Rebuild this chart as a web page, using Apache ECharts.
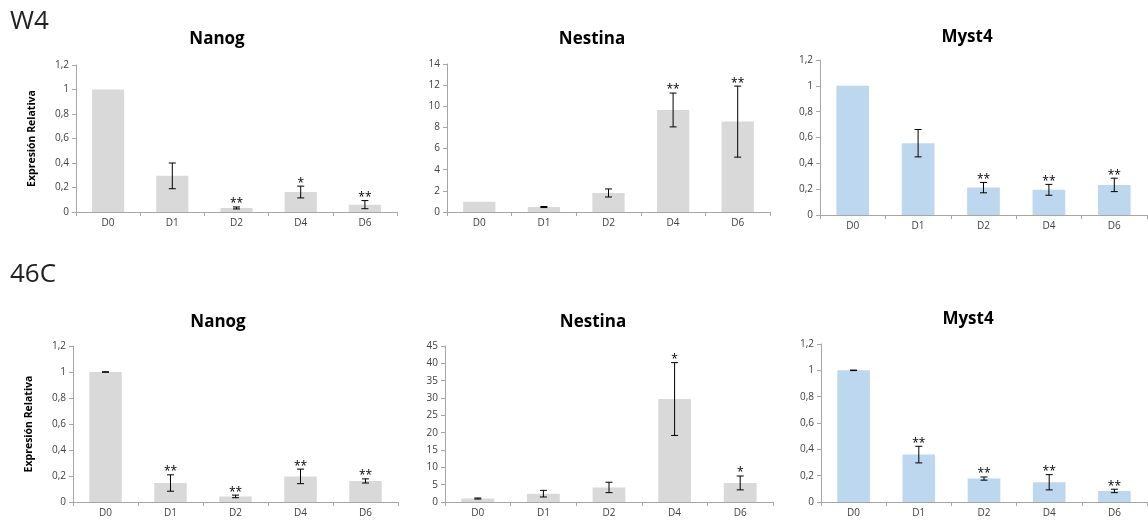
<!DOCTYPE html>
<html><head><meta charset="utf-8">
<script src="https://cdn.jsdelivr.net/npm/echarts@6/dist/echarts.min.js"></script>
<style>html,body{margin:0;padding:0;background:#fff}#c{width:1148px;height:523px}</style>
</head><body><div id="c"></div>
<script>
const categories = ['D0', 'D1', 'D2', 'D4', 'D6'];

const w4NanogMean = [1.0, 0.295, 0.033, 0.163, 0.06];
const w4NanogErr  = [0, 0.105, 0.008, 0.048, 0.033];
const w4NanogSig  = ['', '', '**', '*', '**'];

const w4NestinaMean = [0.98, 0.47, 1.8, 9.65, 8.55];
const w4NestinaErr  = [0, 0.05, 0.38, 1.6, 3.36];
const w4NestinaSig  = ['', '', '', '**', '**'];

const w4Myst4Mean = [1.0, 0.556, 0.212, 0.195, 0.233];
const w4Myst4Err  = [0, 0.106, 0.04, 0.042, 0.052];
const w4Myst4Sig  = ['', '', '**', '**', '**'];

const c46NanogMean = [1.0, 0.146, 0.043, 0.197, 0.162];
const c46NanogErr  = [0.002, 0.063, 0.01, 0.056, 0.016];
const c46NanogSig  = ['', '**', '**', '**', '**'];

const c46NestinaMean = [1.0, 2.4, 4.2, 29.7, 5.5];
const c46NestinaErr  = [0.15, 0.95, 1.5, 10.5, 2.0];
const c46NestinaSig  = ['', '', '', '*', '*'];

const c46Myst4Mean = [1.0, 0.36, 0.178, 0.15, 0.084];
const c46Myst4Err  = [0.002, 0.063, 0.012, 0.058, 0.013];
const c46Myst4Sig  = ['', '**', '**', '**', '**'];

const panels = [
  {title:'Nanog', mean:w4NanogMean, err:w4NanogErr, sig:w4NanogSig, max:1.2, interval:0.2, color:'#d9d9d9', ylabel:true,
   grid:{left:76, right:1148-397, top:65, height:147}},
  {title:'Nestina', mean:w4NestinaMean, err:w4NestinaErr, sig:w4NestinaSig, max:14, interval:2, color:'#d9d9d9', ylabel:false,
   grid:{left:447, right:1148-770, top:64, height:148}},
  {title:'Myst4', mean:w4Myst4Mean, err:w4Myst4Err, sig:w4Myst4Sig, max:1.2, interval:0.2, color:'#bdd7ee', ylabel:false,
   grid:{left:820, right:1, top:60, height:155}},
  {title:'Nanog', mean:c46NanogMean, err:c46NanogErr, sig:c46NanogSig, max:1.2, interval:0.2, color:'#d9d9d9', ylabel:true,
   grid:{left:73, right:1148-398, top:346, height:156}},
  {title:'Nestina', mean:c46NestinaMean, err:c46NestinaErr, sig:c46NestinaSig, max:45, interval:5, color:'#d9d9d9', ylabel:false,
   grid:{left:445, right:1148-773, top:346, height:156}},
  {title:'Myst4', mean:c46Myst4Mean, err:c46Myst4Err, sig:c46Myst4Sig, max:1.2, interval:0.2, color:'#bdd7ee', ylabel:false,
   grid:{left:821, right:1, top:344, height:158}}
];
const titlePos = [[212,26],[587,26],[962,24],[213,309],[588,309],[963,306]];

const FONT = '"Open Sans", "Noto Sans", sans-serif';
const axisColor = '#a6a6a6';
const labelColor = '#404040';

const option = {
  backgroundColor:'#ffffff',
  animation:false,
  title: panels.map((p,i)=>({text:p.title, left:titlePos[i][0], top:titlePos[i][1], textAlign:'center',
    textStyle:{fontFamily:FONT, fontWeight:'bold', fontSize:17, color:'#000'}})),
  grid: panels.map(p=>Object.assign({containLabel:false}, p.grid)),
  xAxis: panels.map((p,i)=>({type:'category', gridIndex:i, data:categories,
    axisLine:{lineStyle:{color:axisColor, width:1}},
    axisTick:{show:true, length:4, lineStyle:{color:axisColor}},
    axisLabel:{fontFamily:FONT, fontSize:10, color:labelColor, margin:6}})),
  yAxis: panels.map((p,i)=>({type:'value', gridIndex:i, min:0, max:p.max, interval:p.interval,
    name: p.ylabel ? 'Expresión Relativa' : '', nameLocation:'middle', nameGap:38, nameRotate:90,
    nameTextStyle:{fontFamily:FONT, fontWeight:'bold', fontSize:10.5, color:'#000'},
    axisLine:{show:true, lineStyle:{color:axisColor, width:1}},
    axisTick:{show:true, length:4, lineStyle:{color:axisColor}},
    splitLine:{show:false},
    axisLabel:{fontFamily:FONT, fontSize:10, color:labelColor, margin:7,
      formatter:v=>String(Math.round(v*100)/100).replace('.',',')}})),
  graphic:[
    {type:'text', left:10, top:9, style:{text:'W4', fontFamily:FONT, fontSize:26, fill:'#222'}},
    {type:'text', left:10, top:262, style:{text:'46C', fontFamily:FONT, fontSize:26, fill:'#222'}}
  ],
  series: []
};

panels.forEach((p,i)=>{
  option.series.push({type:'bar', xAxisIndex:i, yAxisIndex:i, data:p.mean, barWidth:'50%',
    itemStyle:{color:p.color}, silent:true, z:2});
  option.series.push({type:'custom', xAxisIndex:i, yAxisIndex:i, z:10,
    data:p.mean.map((m,k)=>[k, m, p.err[k]]),
    encode:{x:0, y:1},
    renderItem:(params, api)=>{
      const k = api.value(0), m = api.value(1), e = api.value(2);
      const top = api.coord([k, m+e]);
      const bot = api.coord([k, m-e]);
      const cap = 3.5;
      const children = [];
      const ls = {stroke:'#000', lineWidth:1};
      if (e > 0) {
        children.push({type:'line', shape:{x1:top[0], y1:top[1], x2:bot[0], y2:bot[1]}, style:ls});
        children.push({type:'line', shape:{x1:top[0]-cap, y1:top[1], x2:top[0]+cap, y2:top[1]}, style:ls});
        children.push({type:'line', shape:{x1:bot[0]-cap, y1:bot[1], x2:bot[0]+cap, y2:bot[1]}, style:ls});
      }
      const s = p.sig[params.dataIndex];
      if (s) {
        children.push({type:'text', style:{text:s, x:top[0], y:top[1]+3, align:'center', verticalAlign:'bottom',
          fontFamily:FONT, fontSize:12, fill:'#000'}});
      }
      return {type:'group', children};
    }});
});

const chart = echarts.init(document.getElementById('c'), null, {renderer:'canvas'});
chart.setOption(option);
</script>
</body></html>
